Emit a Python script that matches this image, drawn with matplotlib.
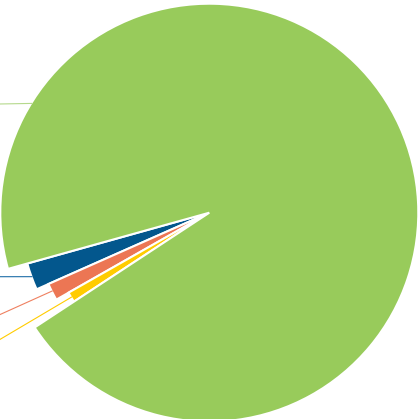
import matplotlib
matplotlib.use('Agg')
import matplotlib.pyplot as plt
import numpy as np

#################################################
# Data.
labels = ['Blue', 'Orange', 'Yellow', 'Green']
values = [2.31, 1.58, 1.03, 95.08]
colors = ['#03578d', '#ec7654', '#ffcc00', '#98cb5b']
line_colors = ['#1f6ea8', '#ef8060', '#ffcc00', '#b5d98c']

# radius of each slice, relative to the big one
radius_scale = [0.904, 0.842, 0.775, 1.0]

# connector: angle (deg) where it leaves the slice, and the y where it
# leaves the canvas on the left (labels sit off canvas)
conn_angle = [199.9, 206.5, 211.5, 148.3]
conn_exit_y = [142.3, 104.0, 79.0, 315.0]

#################################################
# Setup.
W, H = 418, 419
center = (209.3, 206.3)
R = 209.0

fig = plt.figure(figsize=(W / 100, H / 100), dpi=100)
ax = fig.add_axes([0, 0, 1, 1])

wedges, _ = ax.pie(values, colors=colors, startangle=195.6, counterclock=True,
                   center=center, radius=R,
                   wedgeprops=dict(edgecolor='white', linewidth=1.5))
for w, s in zip(wedges, radius_scale):
    w.set_radius(R * s)

# Connector lines.
for i in range(len(labels)):
    a = np.deg2rad(conn_angle[i])
    r = R * radius_scale[i] - 1
    x0 = center[0] + r * np.cos(a)
    y0 = center[1] + r * np.sin(a)
    ax.plot([x0, -1], [y0, conn_exit_y[i]], color=line_colors[i], lw=0.8,
            solid_capstyle='butt')

ax.set_xlim(0, W)
ax.set_ylim(0, H)
ax.set_aspect('auto')
ax.axis('off')

fig.savefig('out.png', dpi=100)
